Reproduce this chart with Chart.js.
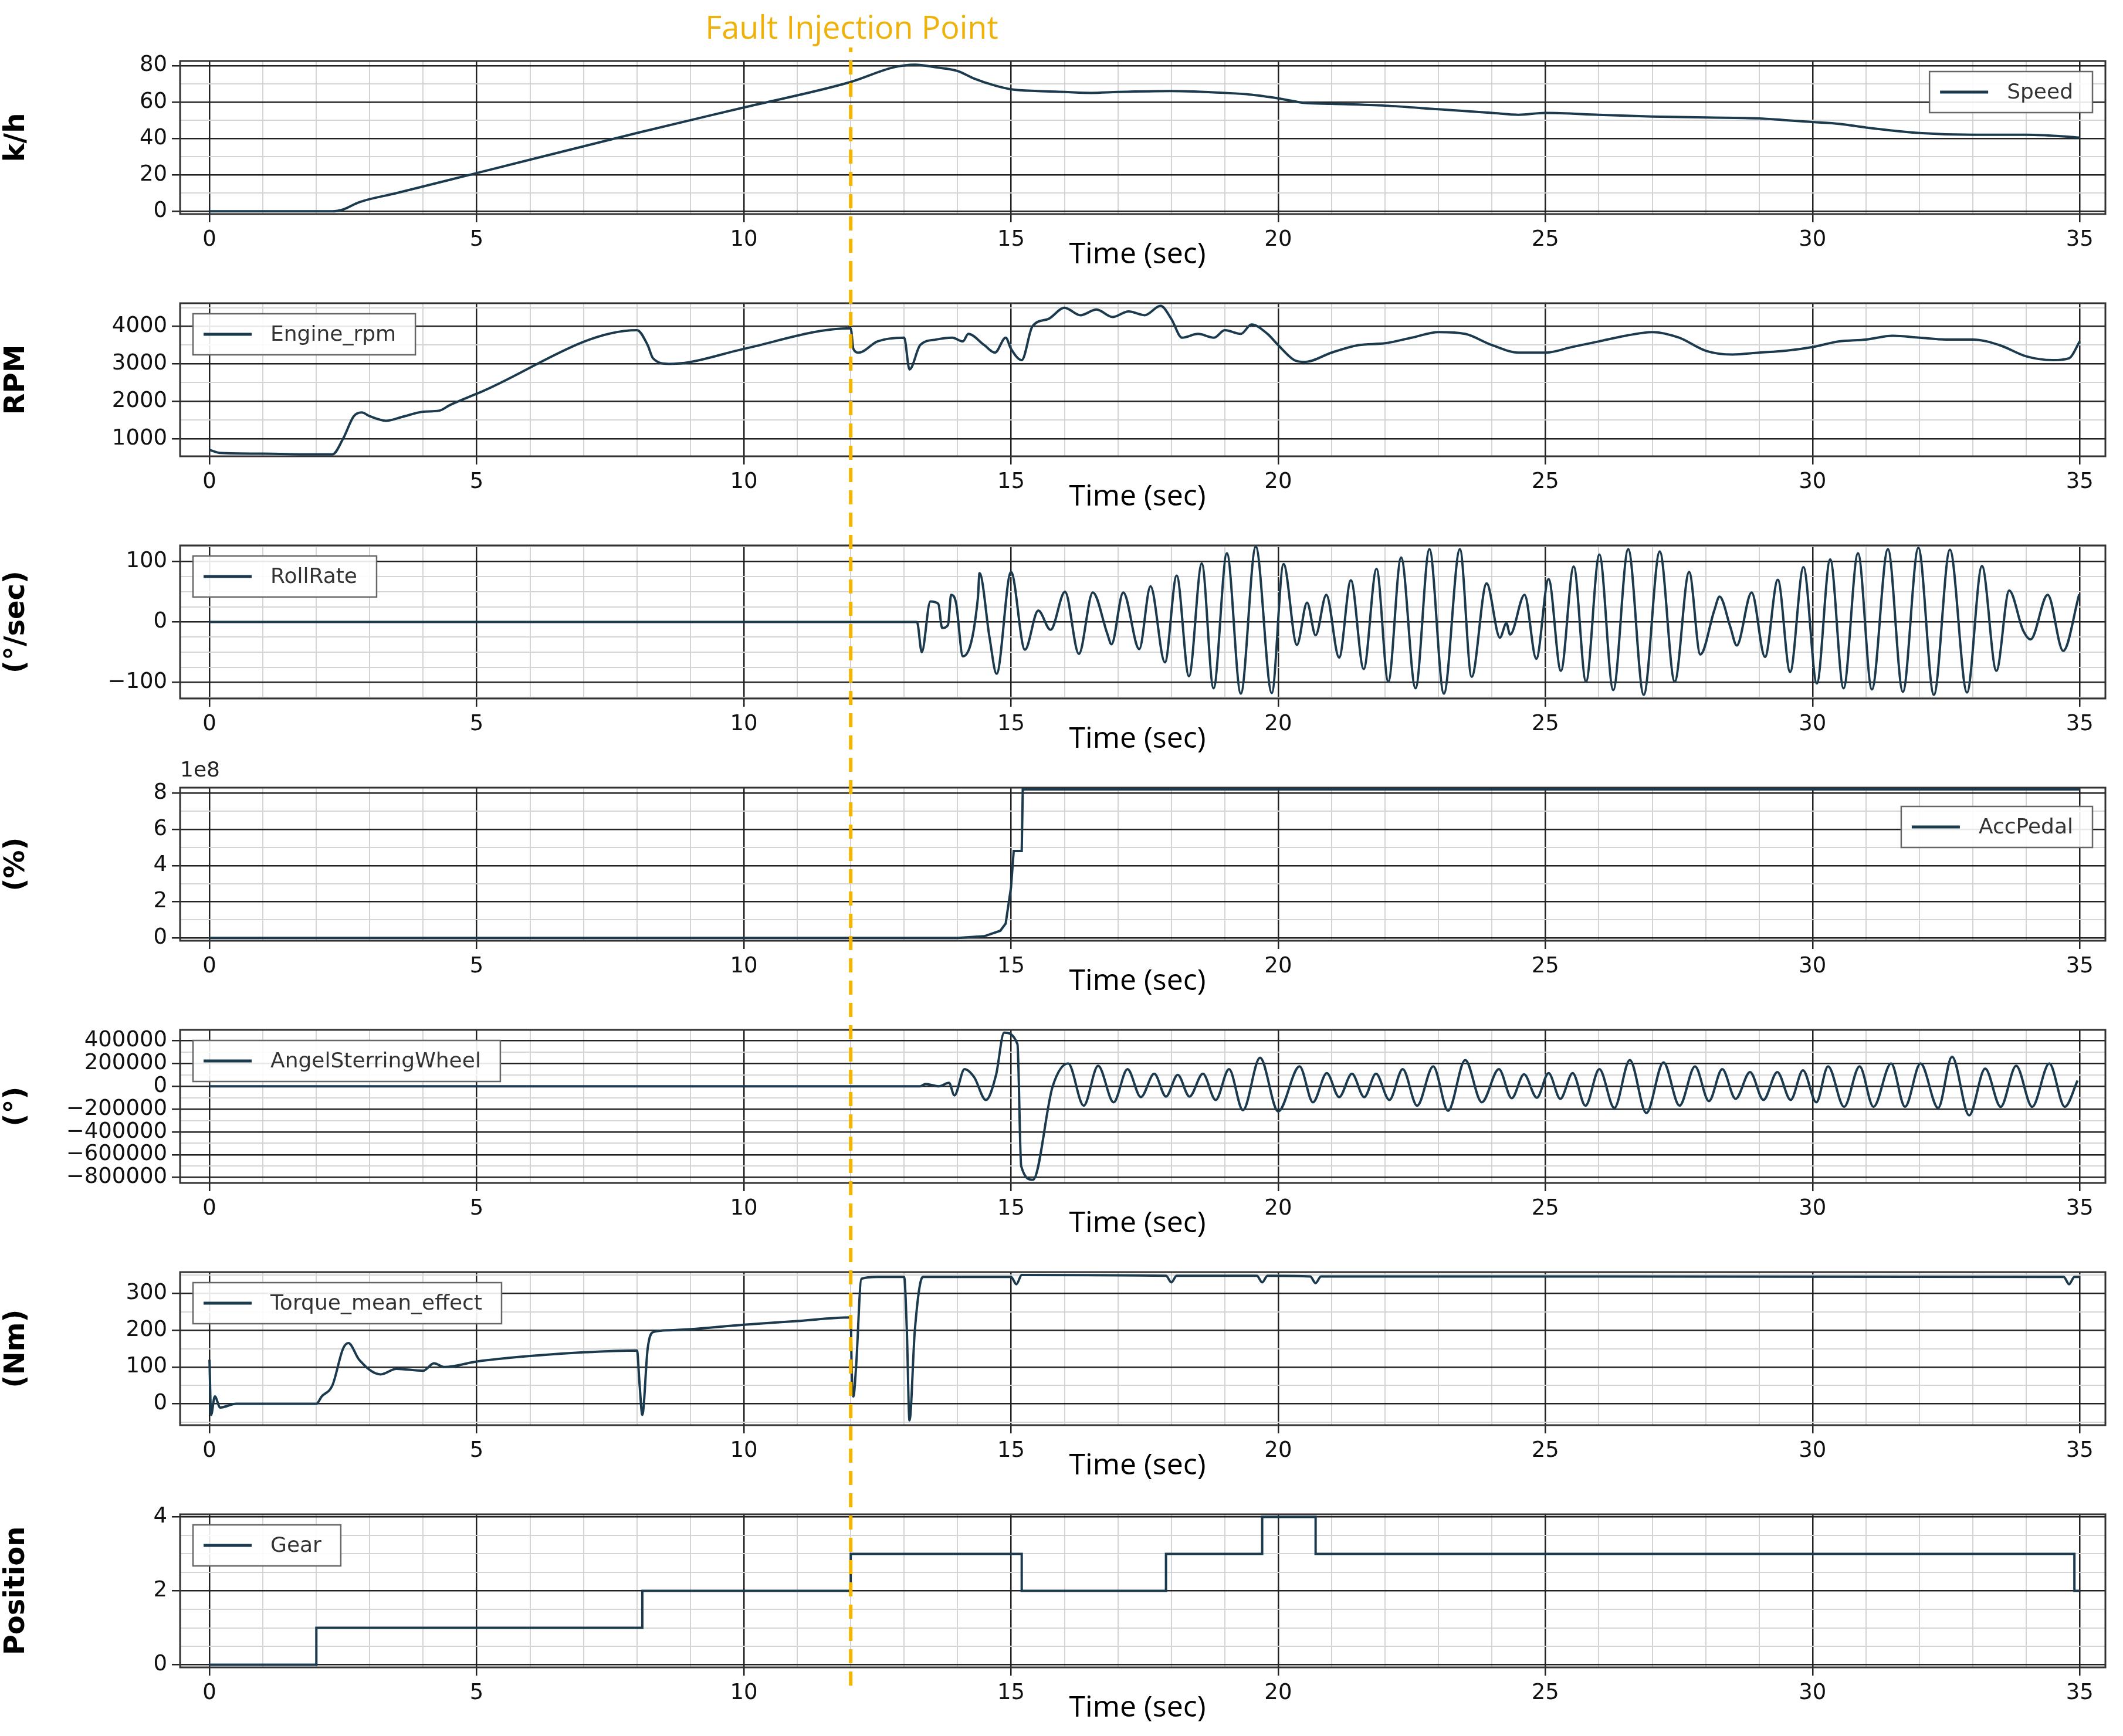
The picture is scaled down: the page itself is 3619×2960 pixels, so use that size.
<!DOCTYPE html>
<html>
<head>
<meta charset="utf-8">
<script src="https://cdn.jsdelivr.net/npm/chart.js@4.4.1/dist/chart.umd.min.js"></script>
<style>
  body { margin: 0; background: #fff; width: 3619px; height: 2960px; position: relative; overflow: hidden; }
  canvas { position: absolute; left: 0; }
  #fault { position: absolute; top: 8px; left: 1452px; transform: translateX(-50%);
    font-family: "Open Sans", sans-serif; font-size: 54px; color: #efb20c; white-space: nowrap; }
</style>
</head>
<body>
<div id="fault">Fault Injection Point</div>
<script>
const LINE = "#1b3a4e";
const FAULT_T = 12;
const xMajor = [0, 5, 10, 15, 20, 25, 30, 35];

// Speed (k/h)
const speedT = [0, 2.3, 2.5, 2.8, 3.5, 5, 8, 10, 12, 12.8, 13.2, 13.6, 14, 14.3, 14.7, 15, 15.5, 16, 16.5, 17, 18, 19, 19.5, 20, 20.5, 21, 22, 23, 24, 24.5, 25, 26, 27, 28, 29, 29.5, 30, 30.5, 31, 32, 33, 34, 34.5, 35];
const speedV = [0, 0, 1, 5, 10, 21, 43, 57, 71, 79, 80.5, 79, 77, 73, 69, 67, 66, 65.5, 65, 65.5, 66, 65, 64, 62, 59.5, 59, 58, 56, 54, 53, 54, 53, 52, 51.5, 51, 50, 49, 48, 46, 43, 42, 42, 41.5, 40.5];

// Engine rpm
const rpmT = [0, 0.2, 1, 2, 2.3, 2.5, 2.7, 2.85, 3.0, 3.3, 3.6, 4, 4.3, 4.5, 5, 8, 8.2, 8.3, 8.6, 9, 10, 12, 12.05, 12.15, 12.5, 13, 13.1, 13.3, 13.6, 13.9, 14.1, 14.2, 14.5, 14.7, 14.9, 15, 15.2, 15.4, 15.7, 16, 16.3, 16.6, 16.9, 17.2, 17.5, 17.8, 18, 18.2, 18.5, 18.8, 19, 19.3, 19.5, 19.8, 20, 20.3, 20.5, 21, 21.5, 22, 22.5, 23, 23.5, 24, 24.5, 25, 25.5, 26, 26.5, 27, 27.5, 28, 28.5, 29, 29.5, 30, 30.5, 31, 31.5, 32, 32.5, 33, 33.5, 34, 34.5, 34.8, 35];
const rpmV = [700, 620, 600, 580, 580, 1000, 1600, 1700, 1600, 1480, 1580, 1720, 1750, 1900, 2200, 3900, 3500, 3150, 3000, 3050, 3400, 3950, 3400, 3300, 3600, 3700, 2850, 3500, 3650, 3700, 3600, 3800, 3500, 3300, 3700, 3400, 3100, 4000, 4200, 4500, 4300, 4450, 4250, 4400, 4300, 4550, 4200, 3700, 3800, 3700, 3900, 3800, 4050, 3800, 3500, 3100, 3050, 3300, 3500, 3550, 3700, 3850, 3800, 3500, 3300, 3300, 3450, 3600, 3750, 3850, 3700, 3350, 3250, 3300, 3350, 3450, 3600, 3650, 3750, 3700, 3650, 3650, 3500, 3200, 3100, 3150, 3600];

// Roll rate (°/sec)
const rollT = [0, 13.24, 13.33, 13.49, 13.64, 13.71, 13.82, 13.88, 13.97, 14.10, 14.38, 14.41, 14.60, 14.73, 15.00, 15.26, 15.51, 15.74, 16.01, 16.27, 16.53, 16.80, 16.88, 17.10, 17.40, 17.61, 17.88, 18.10, 18.33, 18.57, 18.79, 19.04, 19.30, 19.58, 19.88, 20.10, 20.35, 20.54, 20.70, 20.90, 21.14, 21.36, 21.60, 21.84, 22.06, 22.30, 22.57, 22.83, 23.10, 23.40, 23.62, 23.90, 24.15, 24.27, 24.34, 24.61, 24.83, 25.06, 25.29, 25.53, 25.76, 26.01, 26.27, 26.55, 26.84, 27.14, 27.42, 27.69, 27.90, 28.16, 28.26, 28.46, 28.58, 28.86, 29.11, 29.35, 29.58, 29.83, 30.08, 30.33, 30.58, 30.85, 31.11, 31.41, 31.69, 31.98, 32.27, 32.57, 32.89, 33.17, 33.44, 33.68, 33.94, 34.08, 34.40, 34.69, 34.99];
const rollV = [0, 0, -50, 34, 30, -10, -5, 45, 32, -57, 40, 81, -27, -86, 83, -46, 19, -13, 50, -53, 49, -19, -37, 49, -45, 59, -67, 77, -90, 97, -110, 114, -119, 125, -118, 96, -38, 32, -22, 45, -59, 69, -78, 88, -99, 107, -110, 121, -119, 121, -91, 64, -26, -2, -21, 45, -61, 71, -81, 92, -99, 112, -113, 121, -121, 117, -99, 83, -54, 19, 42, -8, -39, 49, -58, 70, -83, 91, -102, 104, -110, 114, -112, 121, -116, 123, -121, 120, -117, 93, -81, 52, -14, -29, 45, -48, 46];

// Accelerator pedal (%)
const accT = [0, 14, 14.5, 14.8, 14.9, 15.0, 15.05, 15.2, 15.22, 35];
const accV = [0, 0, 1e7, 4e7, 8e7, 2.8e8, 4.8e8, 4.8e8, 8.2e8, 8.2e8];

// Steering wheel angle (°)
const steerT = [0, 13.3, 13.40, 13.65, 13.84, 13.94, 14.13, 14.31, 14.53, 14.72, 14.87, 15.12, 15.19, 15.41, 15.78, 16.07, 16.36, 16.63, 16.92, 17.18, 17.43, 17.68, 17.90, 18.12, 18.34, 18.59, 18.83, 19.08, 19.34, 19.66, 20.00, 20.40, 20.65, 20.91, 21.14, 21.38, 21.61, 21.83, 22.08, 22.33, 22.60, 22.90, 23.18, 23.50, 23.81, 24.13, 24.37, 24.60, 24.84, 25.06, 25.28, 25.51, 25.75, 26.01, 26.29, 26.58, 26.89, 27.21, 27.51, 27.80, 28.06, 28.31, 28.56, 28.83, 29.08, 29.34, 29.59, 29.82, 30.07, 30.29, 30.59, 30.88, 31.14, 31.47, 31.73, 32.02, 32.35, 32.61, 32.93, 33.23, 33.52, 33.81, 34.11, 34.43, 34.72, 34.96];
const steerV = [0, 0, 20000, 0, 30000, -80000, 150000, 80000, -120000, 100000, 470000, 370000, -700000, -820000, 0, 200000, -170000, 180000, -140000, 150000, -95000, 110000, -90000, 100000, -90000, 110000, -120000, 150000, -210000, 250000, -220000, 175000, -140000, 115000, -95000, 110000, -95000, 110000, -120000, 150000, -170000, 175000, -215000, 230000, -140000, 150000, -105000, 105000, -100000, 115000, -110000, 115000, -170000, 150000, -190000, 230000, -235000, 210000, -170000, 175000, -130000, 150000, -110000, 125000, -120000, 125000, -120000, 140000, -140000, 175000, -180000, 175000, -180000, 200000, -180000, 200000, -190000, 260000, -255000, 155000, -180000, 180000, -180000, 200000, -180000, 50000];

// Torque (Nm)
const torqT = [0, 0.03, 0.1, 0.2, 0.5, 2, 2.1, 2.3, 2.5, 2.6, 2.8, 3.2, 3.5, 4, 4.2, 4.4, 5, 6, 7, 8, 8.05, 8.1, 8.2, 8.3, 8.6, 10, 11, 12, 12.02, 12.05, 12.1, 12.2, 12.5, 13, 13.05, 13.1, 13.2, 13.35, 15, 15.1, 15.2, 17.9, 18, 18.1, 19.6, 19.7, 19.8, 20.6, 20.7, 20.8, 34.7, 34.8, 34.9, 35];
const torqV = [120, -30, 20, -10, 0, 0, 20, 50, 150, 165, 120, 80, 95, 90, 110, 100, 115, 130, 140, 145, 50, -30, 150, 195, 200, 215, 225, 235, 80, 20, 100, 340, 345, 345, 200, -45, 200, 345, 345, 325, 350, 348, 330, 348, 348, 330, 348, 346, 328, 346, 345, 325, 345, 345];

// Gear (position), each shift written as two points at the same time
const gearT = [0, 2, 2, 8.1, 8.1, 12, 12, 15.2, 15.2, 17.9, 17.9, 19.7, 19.7, 20.7, 20.7, 34.9, 34.9, 35];
const gearV = [0, 0, 1, 1, 2, 2, 3, 3, 2, 2, 3, 3, 4, 4, 3, 3, 2, 2];

const panels = [
  { t: speedT, v: speedV, title: "k/h", label: "Speed", legend: "right", min: -1.5, max: 82.5, minor: 10, major: 20 },
  { t: rpmT, v: rpmV, title: "RPM", label: "Engine_rpm", legend: "left", min: 530, max: 4620, minor: 500, major: 1000 },
  { t: rollT, v: rollV, title: "(°/sec)", label: "RollRate", legend: "left", min: -127, max: 127, minor: 25, major: 100 },
  { t: accT, v: accV, title: "(%)", label: "AccPedal", legend: "right", min: -0.15e8, max: 8.3e8, minor: 1e8, major: 2e8, scaleLabel: "1e8", div: 1e8, legendDy: 14 },
  { t: steerT, v: steerV, title: "(°)", label: "AngelSterringWheel", legend: "left", min: -848000, max: 495000, minor: 100000, major: 200000 },
  { t: torqT, v: torqV, title: "(Nm)", label: "Torque_mean_effect", legend: "left", min: -58, max: 358, minor: 50, major: 100 },
  { t: gearT, v: gearV, title: "Position", label: "Gear", legend: "left", min: -0.07, max: 4.07, minor: 0.5, major: 2, linear: true }
];

const PANEL_H = 413, TOP0 = 54, PLOT_H = 261, PAD_TOP = 50;
const isMajor = (v, m) => Math.abs(v / m - Math.round(v / m)) < 1e-6;
const minus = s => String(s).replace("-", "\u2212");

function rangeTicks(min, max, step) {
  const out = [];
  for (let v = Math.ceil(min / step) * step; v <= max + 1e-9; v += step) out.push({ value: Math.round(v / step) * step });
  return out;
}

const panelPlugin = {
  id: "panelDeco",
  beforeDatasetsDraw(chart) {
    const { ctx, chartArea: a } = chart;
    ctx.save();
    ctx.strokeStyle = "#333";
    ctx.lineWidth = 3;
    ctx.strokeRect(a.left, a.top, a.right - a.left, a.bottom - a.top);
    ctx.restore();
  },
  afterDatasetsDraw(chart, args, o) {
    const { ctx, chartArea: a } = chart;
    ctx.save();
    // legend box
    ctx.font = "36px 'DejaVu Sans'";
    const tw = ctx.measureText(o.label).width;
    const bw = tw + 165, bh = 70;
    const bx = o.legend === "left" ? a.left + 22 : a.right - 22 - bw;
    const by = a.top + 18 + (o.legendDy || 0);
    ctx.fillStyle = "rgba(255,255,255,0.9)";
    ctx.fillRect(bx, by, bw, bh);
    ctx.strokeStyle = "#666";
    ctx.lineWidth = 2.5;
    ctx.strokeRect(bx, by, bw, bh);
    ctx.strokeStyle = LINE;
    ctx.lineWidth = 5;
    ctx.beginPath();
    ctx.moveTo(bx + 18, by + bh / 2);
    ctx.lineTo(bx + 100, by + bh / 2);
    ctx.stroke();
    ctx.fillStyle = "#333";
    ctx.textBaseline = "middle";
    ctx.fillText(o.label, bx + 132, by + bh / 2 + 2);
    // x title
    ctx.fillStyle = "#000";
    ctx.font = "50px 'Open Sans'";
    ctx.textAlign = "center";
    ctx.fillText("Time (sec)", 1939, a.bottom + 70);
    if (o.scaleLabel) {
      ctx.textAlign = "left";
      ctx.font = "36px 'DejaVu Sans'";
      ctx.fillStyle = "#222";
      ctx.fillText(o.scaleLabel, a.left, a.top - 28);
    }
    // fault injection line
    const x = chart.scales.x.getPixelForValue(FAULT_T);
    ctx.strokeStyle = "#f4b400";
    ctx.lineWidth = 6;
    ctx.setLineDash([24, 14]);
    ctx.lineDashOffset = o.top % 38;
    ctx.beginPath();
    ctx.moveTo(x, o.first ? a.top - 23 : 0);
    ctx.lineTo(x, o.last ? a.bottom + 40 : chart.height);
    ctx.stroke();
    ctx.restore();
  }
};

panels.forEach((p, i) => {
  const cv = document.createElement("canvas");
  const top = TOP0 + i * PANEL_H;
  cv.width = 3619;
  cv.height = PANEL_H;
  cv.style.top = top + "px";
  document.body.appendChild(cv);

  new Chart(cv.getContext("2d"), {
    type: "line",
    data: {
      datasets: [{
        label: p.label,
        data: p.t.map((t, k) => ({ x: t, y: p.v[k] })),
        borderColor: LINE,
        borderWidth: 4,
        pointRadius: 0,
        fill: false,
        cubicInterpolationMode: p.linear || p.label === "AccPedal" ? "default" : "monotone"
      }]
    },
    options: {
      responsive: false,
      animation: false,
      devicePixelRatio: 1,
      layout: { padding: { top: PAD_TOP, right: 30, left: 0, bottom: 0 } },
      plugins: {
        legend: { display: false },
        tooltip: { enabled: false },
        panelDeco: { label: p.label, legend: p.legend, legendDy: p.legendDy, scaleLabel: p.scaleLabel, top: top, first: i === 0, last: i === panels.length - 1 }
      },
      scales: {
        x: {
          type: "linear",
          min: -0.55,
          max: 35.48,
          afterFit: s => { s.height = PANEL_H - PAD_TOP - PLOT_H; },
          afterBuildTicks: s => { s.ticks = rangeTicks(0, 35, 1); },
          border: { display: false },
          grid: {
            color: c => isMajor(c.tick.value, 5) ? "#222" : "#d4d4d4",
            lineWidth: c => isMajor(c.tick.value, 5) ? 2.5 : 2,
            tickColor: c => isMajor(c.tick.value, 5) ? "#222" : "rgba(0,0,0,0)",
            tickLength: 14
          },
          ticks: {
            autoSkip: false,
            maxRotation: 0,
            padding: 8,
            color: "#111",
            font: { family: "DejaVu Sans", size: 37 },
            callback: v => xMajor.includes(v) ? String(v) : ""
          }
        },
        y: {
          min: p.min,
          max: p.max,
          afterFit: s => { s.width = 307; },
          afterBuildTicks: s => { s.ticks = rangeTicks(p.min, p.max, p.minor); },
          border: { display: false },
          grid: {
            color: c => isMajor(c.tick.value, p.major) ? "#222" : "#d4d4d4",
            lineWidth: c => isMajor(c.tick.value, p.major) ? 2.5 : 2,
            tickColor: c => isMajor(c.tick.value, p.major) ? "#222" : "rgba(0,0,0,0)",
            tickLength: 14
          },
          ticks: {
            autoSkip: false,
            padding: 8,
            color: "#111",
            font: { family: "DejaVu Sans", size: 37 },
            callback: v => isMajor(v, p.major) ? minus(p.div ? Math.round(v / p.div) : v) : ""
          },
          title: {
            display: true,
            text: p.title,
            color: "#000",
            padding: { top: 0, bottom: 20 },
            font: { family: "DejaVu Sans", size: 48, weight: "bold" }
          }
        }
      }
    },
    plugins: [panelPlugin]
  });
});
</script>
</body>
</html>
